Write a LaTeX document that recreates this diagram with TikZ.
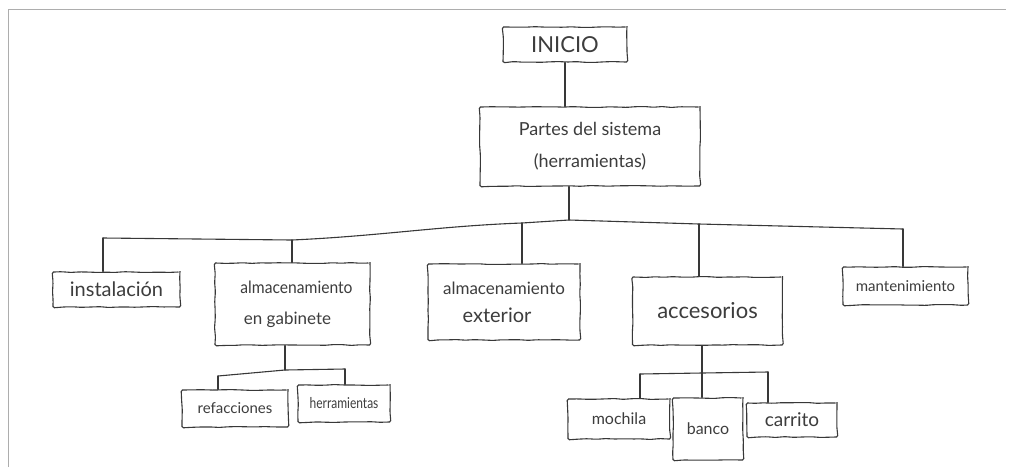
\documentclass[tikz,border=0pt]{standalone}
\usepackage{fontspec}
\setmainfont{Lato}
\usetikzlibrary{decorations.pathmorphing}
% font size and line pitch
\newcommand{\fz}[2]{\fontsize{#1}{#2}\selectfont}
\begin{document}
\begin{tikzpicture}[x=1pt,y=-1pt,
  ink/.style={draw=black!78, line width=1.1pt},
  sketch/.style={ink, decorate, decoration={random steps, segment length=9pt, amplitude=0.45pt}, rounded corners=1.5pt},
  box/.style={sketch, inner sep=0pt, text=black!76, align=center, font=\fz{15}{30}},
  wire/.style={ink, line cap=round, line join=round}]
\pgfmathsetseed{7}
\useasboundingbox (0,0) rectangle (1017,467);
\fill[white] (0,0) rectangle (1017,467);
% scanned page edge
\draw[black!32, line width=1.4pt] (8.5,467) -- (8.5,9.5) -- (1006,9.5);

% nodes
\node[box, minimum width=124, minimum height=35, font=\fz{22}{30}] (inicio) at (565,44.5) {INICIO};
\node[box, minimum width=220, minimum height=79, font=\fz{18}{32}] (partes) at (590,146.5) {Partes del sistema\\(herramientas)};
\node[box, minimum width=127, minimum height=35, font=\fz{20}{30}] (inst) at (116.5,289.5) {instalación};
\node[box, minimum width=155, minimum height=82, font=\fz{17}{31}] (gab) at (292.5,304) {\hspace*{8pt}\scalebox{0.92}[1]{almacenamiento}\\en gabinete\hspace*{10pt}};
\node[box, minimum width=152, minimum height=76, font=\fz{17}{28}] (ext) at (504,302) {almacenamiento\\\fz{20}{28}exterior\hspace*{14pt}};
\node[box, minimum width=150, minimum height=68, font=\fz{22}{30}] (acc) at (707.5,311) {accesorios};
\node[box, minimum width=125, minimum height=38, font=\fz{15}{30}] (mant) at (905.5,286) {mantenimiento};
\node[box, minimum width=106, minimum height=37, font=\fz{15}{30}] (refac) at (235,408.5) {refacciones};
\node[box, minimum width=92, minimum height=37, font=\fz{15}{30}] (herr) at (344,403.5) {\scalebox{0.8}[1]{herramientas}};
\node[box, minimum width=102, minimum height=40, font=\fz{16}{30}] (moch) at (619,419) {mochila};
\node[box, minimum width=70, minimum height=62, font=\fz{16}{30}] (banco) at (708,429) {banco};
\node[box, minimum width=90, minimum height=34, font=\fz{19}{30}] (carr) at (792,420) {carrito};

% main bus
\coordinate (j1) at (103,238);
\coordinate (j2) at (292,240);
\coordinate (jm) at (569,220);
\coordinate (j3) at (522,223);
\coordinate (j4) at (699,224);
\coordinate (j5) at (903,229);
\draw[wire] (inicio.south) -- (inicio.south |- partes.north);
\draw[wire] (partes.south -| jm) -- (jm);
\draw[wire] (j1) -- (j2) .. controls (380,236) and (440,226) .. (j3) -- (jm) -- (j4) -- (j5);
\draw[wire] (j1) -- (j1 |- inst.north);
\draw[wire] (j2) -- (j2 |- gab.north);
\draw[wire] (j3) -- (j3 |- ext.north);
\draw[wire] (j4) -- (j4 |- acc.north);
\draw[wire] (j5) -- (j5 |- mant.north);

% storage branch
\coordinate (g0) at (285,370);
\coordinate (g1) at (218,376);
\coordinate (g2) at (345,369);
\draw[wire] (gab.south -| g0) -- (g0);
\draw[wire] (g1) -- (g0) -- (g2);
\draw[wire] (g1) -- (g1 |- refac.north);
\draw[wire] (g2) -- (g2 |- herr.north);

% accessories branch
\coordinate (a0) at (702,373);
\coordinate (a1) at (640,374);
\coordinate (a2) at (768,372);
\draw[wire] (acc.south -| a0) -- (a0);
\draw[wire] (a1) -- (a0) -- (a2);
\draw[wire] (a1) -- (a1 |- moch.north);
\draw[wire] (a0) -- (a0 |- banco.north);
\draw[wire] (a2) -- (a2 |- carr.north);
\end{tikzpicture}
\end{document}
